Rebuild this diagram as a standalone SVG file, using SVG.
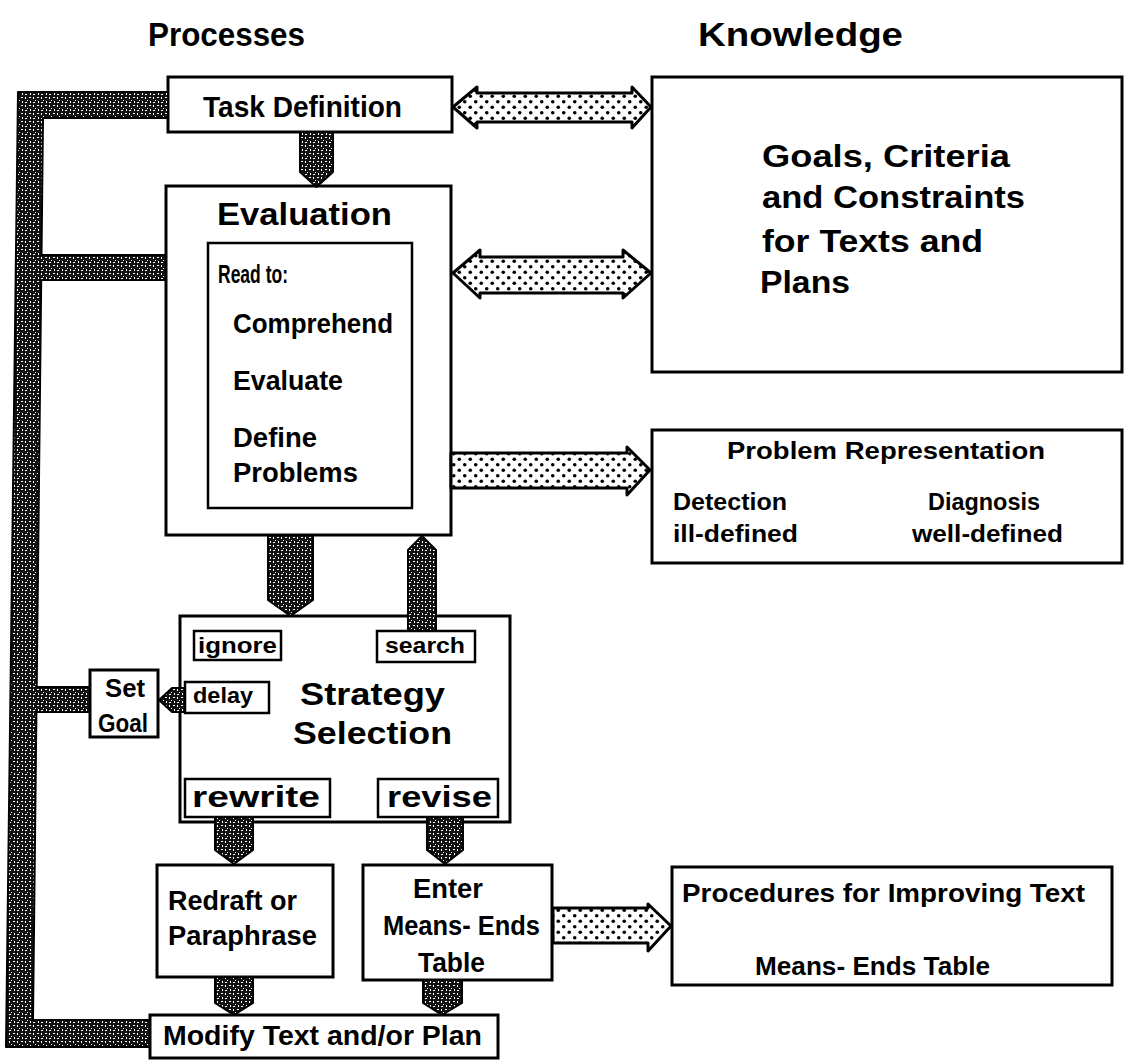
<svg xmlns="http://www.w3.org/2000/svg" width="1125" height="1062" viewBox="0 0 1125 1062">
<defs>
<style>
.box{fill:#fff;stroke:#000;stroke-width:3}
.ibox{fill:#fff;stroke:#000;stroke-width:2.5}
.t{font-family:"Liberation Sans",Arial,sans-serif;font-weight:bold;fill:#000}
.dk{fill:url(#dark);stroke:#000;stroke-width:2;stroke-linejoin:round}
.dt{fill:url(#dots);stroke:#000;stroke-width:3;stroke-linejoin:round}
</style>
<pattern id="dark" width="8" height="8" patternUnits="userSpaceOnUse">
<rect width="8" height="8" fill="#111"/>
<path d="M1 1h1v2h-1z M5 1h2v1h-2z M3 4h1v1h-1z M6 5h1v2h-1z M1 6h2v1h-2z" fill="#fff"/>
</pattern>
<pattern id="dots" width="11" height="11" patternUnits="userSpaceOnUse">
<rect width="11" height="11" fill="#fff"/>
<circle cx="2.75" cy="2.75" r="1.8" fill="#000"/>
<circle cx="8.25" cy="8.25" r="1.8" fill="#000"/>
</pattern>
</defs>
<rect width="1125" height="1062" fill="#fff"/>

<g id="titles">
<text class="t" x="148" y="46" font-size="33" textLength="157" lengthAdjust="spacingAndGlyphs">Processes</text>
<text class="t" x="698" y="46" font-size="33" textLength="205" lengthAdjust="spacingAndGlyphs">Knowledge</text>
</g>

<g id="task-definition">
<rect class="box" x="168" y="77" width="284" height="55"/>
<text class="t" x="203" y="117" font-size="30" textLength="199" lengthAdjust="spacingAndGlyphs">Task Definition</text>
</g>

<g id="evaluation">
<rect class="box" x="166" y="186" width="285" height="349"/>
<text class="t" x="217" y="225" font-size="31" textLength="175" lengthAdjust="spacingAndGlyphs">Evaluation</text>
<rect class="ibox" x="208" y="243" width="204" height="265"/>
<text class="t" x="218" y="283" font-size="26" textLength="70" lengthAdjust="spacingAndGlyphs">Read to:</text>
<text class="t" x="233" y="333" font-size="27" textLength="160" lengthAdjust="spacingAndGlyphs">Comprehend</text>
<text class="t" x="233" y="390" font-size="27" textLength="110" lengthAdjust="spacingAndGlyphs">Evaluate</text>
<text class="t" x="233" y="447" font-size="27" textLength="84" lengthAdjust="spacingAndGlyphs">Define</text>
<text class="t" x="233" y="482" font-size="27" textLength="125" lengthAdjust="spacingAndGlyphs">Problems</text>
</g>

<g id="goals-knowledge">
<rect class="box" x="652" y="77" width="470" height="295"/>
<text class="t" x="762" y="167" font-size="31" textLength="248" lengthAdjust="spacingAndGlyphs">Goals, Criteria</text>
<text class="t" x="762" y="208" font-size="31" textLength="263" lengthAdjust="spacingAndGlyphs">and Constraints</text>
<text class="t" x="762" y="252" font-size="31" textLength="221" lengthAdjust="spacingAndGlyphs">for Texts and</text>
<text class="t" x="760" y="293" font-size="31" textLength="90" lengthAdjust="spacingAndGlyphs">Plans</text>
</g>

<g id="problem-representation">
<rect class="box" x="652" y="430" width="470" height="133"/>
<text class="t" x="727" y="459" font-size="24" textLength="318" lengthAdjust="spacingAndGlyphs">Problem Representation</text>
<text class="t" x="673" y="510" font-size="23" textLength="114" lengthAdjust="spacingAndGlyphs">Detection</text>
<text class="t" x="673" y="542" font-size="23" textLength="125" lengthAdjust="spacingAndGlyphs">ill-defined</text>
<text class="t" x="928" y="510" font-size="23" textLength="112" lengthAdjust="spacingAndGlyphs">Diagnosis</text>
<text class="t" x="912" y="542" font-size="23" textLength="151" lengthAdjust="spacingAndGlyphs">well-defined</text>
</g>

<g id="strategy-selection">
<rect class="box" x="180" y="616" width="330" height="206"/>
<text class="t" x="300" y="705" font-size="32" textLength="145" lengthAdjust="spacingAndGlyphs">Strategy</text>
<text class="t" x="293" y="744" font-size="32" textLength="159" lengthAdjust="spacingAndGlyphs">Selection</text>
</g>
<g id="ignore">
<rect class="ibox" x="194" y="631" width="87" height="29"/>
<text class="t" x="198" y="653" font-size="22" textLength="79" lengthAdjust="spacingAndGlyphs">ignore</text>
</g>
<g id="search">
<rect class="ibox" x="377" y="631" width="98" height="31"/>
<text class="t" x="385" y="653" font-size="22" textLength="80" lengthAdjust="spacingAndGlyphs">search</text>
</g>
<g id="delay">
<rect class="ibox" x="185" y="682" width="84" height="31"/>
<text class="t" x="193" y="703" font-size="22" textLength="60" lengthAdjust="spacingAndGlyphs">delay</text>
</g>
<g id="rewrite">
<rect class="ibox" x="185" y="779" width="145" height="38"/>
<text class="t" x="192" y="807" font-size="30" textLength="128" lengthAdjust="spacingAndGlyphs">rewrite</text>
</g>
<g id="revise">
<rect class="ibox" x="378" y="779" width="120" height="38"/>
<text class="t" x="387" y="807" font-size="30" textLength="105" lengthAdjust="spacingAndGlyphs">revise</text>
</g>

<g id="set-goal">
<rect class="box" x="90" y="670" width="68" height="67"/>
<text class="t" x="105" y="697" font-size="25" textLength="40" lengthAdjust="spacingAndGlyphs">Set</text>
<text class="t" x="98" y="732" font-size="25" textLength="50" lengthAdjust="spacingAndGlyphs">Goal</text>
</g>

<g id="redraft">
<rect class="box" x="157" y="865" width="176" height="112"/>
<text class="t" x="168" y="910" font-size="27" textLength="129" lengthAdjust="spacingAndGlyphs">Redraft or</text>
<text class="t" x="168" y="945" font-size="27" textLength="149" lengthAdjust="spacingAndGlyphs">Paraphrase</text>
</g>

<g id="means-ends">
<rect class="box" x="363" y="865" width="189" height="115"/>
<text class="t" x="413" y="898" font-size="27" textLength="70" lengthAdjust="spacingAndGlyphs">Enter</text>
<text class="t" x="383" y="935" font-size="27" textLength="157" lengthAdjust="spacingAndGlyphs">Means- Ends</text>
<text class="t" x="418" y="972" font-size="27" textLength="67" lengthAdjust="spacingAndGlyphs">Table</text>
</g>

<g id="modify">
<rect class="box" x="150" y="1015" width="348" height="43"/>
<text class="t" x="163" y="1045" font-size="27" textLength="319" lengthAdjust="spacingAndGlyphs">Modify Text and/or Plan</text>
</g>

<g id="procedures">
<rect class="box" x="672" y="867" width="440" height="118"/>
<text class="t" x="682" y="902" font-size="26" textLength="403" lengthAdjust="spacingAndGlyphs">Procedures for Improving Text</text>
<text class="t" x="755" y="975" font-size="26" textLength="235" lengthAdjust="spacingAndGlyphs">Means- Ends Table</text>
</g>

<g id="connectors">
<path class="dk" d="M18 92 L168 92 L168 118 L43 118 L41.5 255 L166 255 L166 280 L41.2 280 L36.7 687 L90 687 L90 712 L36.4 712 L33 1020 L150 1020 L150 1047 L6 1047 Z"/>
<path class="dk" d="M300 132 L333 132 L333 172 L316.5 187 L300 172 Z"/>
<path class="dk" d="M268 535 L313 535 L313 600 L290.5 616 L268 600 Z"/>
<path class="dk" d="M408 631 L408 550 L422 536 L436 550 L436 631 Z"/>
<path class="dk" d="M185 688 L172 688 L159 700 L172 712 L185 712 Z"/>
<path class="dk" d="M215 817 L253 817 L253 850 L234 864 L215 850 Z"/>
<path class="dk" d="M427 817 L463 817 L463 850 L445 864 L427 850 Z"/>
<path class="dk" d="M215 977 L253 977 L253 1003 L234 1015 L215 1003 Z"/>
<path class="dk" d="M423 980 L462 980 L462 1003 L442 1015 L423 1003 Z"/>
<path class="dt" d="M453 107 L477 87 L477 93 L632 93 L632 87 L651 107 L632 128 L632 122 L477 122 L477 128 Z"/>
<path class="dt" d="M453 273 L480 250 L480 257 L623 257 L623 250 L651 273 L623 298 L623 293 L480 293 L480 298 Z"/>
<path class="dt" d="M451 453 L627 453 L627 447 L650 470 L627 495 L627 488 L451 488 Z"/>
<path class="dt" d="M553 908 L648 908 L648 904 L671 926 L648 951 L648 943 L553 943 Z"/>
</g>
</svg>
